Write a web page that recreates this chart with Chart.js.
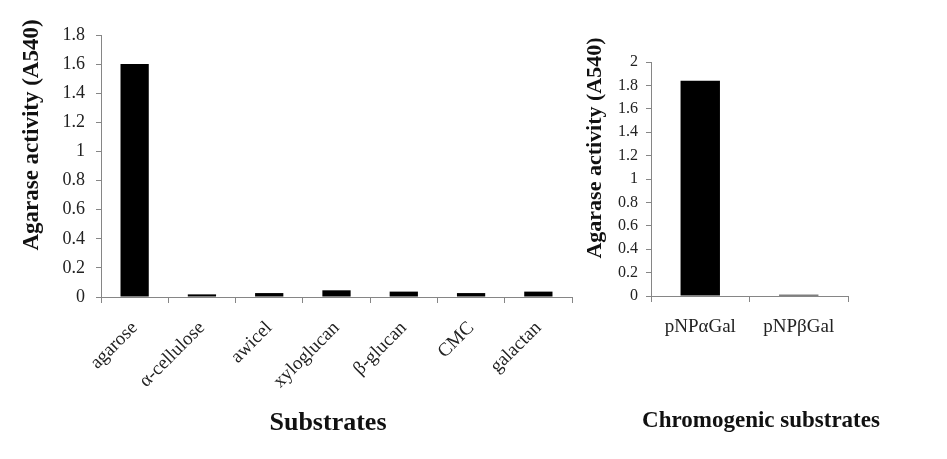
<!DOCTYPE html>
<html>
<head>
<meta charset="utf-8">
<script src="https://cdn.jsdelivr.net/npm/chart.js@4.4.1/dist/chart.umd.min.js"></script>
<style>
  body { margin: 0; background: #fff; }
  .box { position: absolute; top: 0; height: 459px; }
  #leftBox { left: 0; width: 580px; }
  #rightBox { left: 580px; width: 367px; }
</style>
</head>
<body>
<div class="box" id="leftBox"><canvas id="substrateChart"></canvas></div>
<div class="box" id="rightBox"><canvas id="chromoChart"></canvas></div>
<script>
// left panel: polysaccharide substrates
var substrate_labels = ['agarose', '\u03b1-cellulose', 'awicel', 'xyloglucan', '\u03b2-glucan', 'CMC', 'galactan'];
var substrate_values = [1.60, 0.018, 0.027, 0.046, 0.037, 0.027, 0.037];

// right panel: chromogenic substrates
var chromo_labels = ['pNP\u03b1Gal', 'pNP\u03b2Gal'];
var chromo_values = [1.84, 0.01];

var y_title = 'Agarase activity (A540)';
var serif = 'Liberation Serif';
var axis_grey = '#868686';

// axis titles are placed by hand, the excel original has them off-centre
var axisTitles = {
    id: 'axisTitles',
    afterDraw: function (chart, args, o) {
        var ctx = chart.ctx;
        ctx.save();
        ctx.fillStyle = '#111';
        ctx.textAlign = 'center';
        ctx.textBaseline = 'middle';

        ctx.font = 'bold ' + o.xSize + 'px "' + serif + '"';
        ctx.fillText(o.xText, o.xPos[0], o.xPos[1]);

        ctx.translate(o.yPos[0], o.yPos[1]);
        ctx.rotate(-Math.PI / 2);
        ctx.font = 'bold ' + o.ySize + 'px "' + serif + '"';
        ctx.fillText(y_title, 0, 0);
        ctx.restore();
    }
};

function fmt_tick(v) {
    return String(Math.round(v * 10) / 10);
}

function make_chart(id, opts) {
    return new Chart(document.getElementById(id), {
        type: 'bar',
        data: {
            labels: opts.labels,
            datasets: [{
                data: opts.values,
                backgroundColor: '#000',
                borderWidth: 0,
                categoryPercentage: 1,
                barPercentage: opts.barPct
            }]
        },
        plugins: [axisTitles],
        options: {
            responsive: true,
            maintainAspectRatio: false,
            animation: false,
            layout: { padding: opts.padding },
            plugins: {
                legend: { display: false },
                tooltip: { enabled: false },
                axisTitles: opts.titles
            },
            scales: {
                x: {
                    grid: { drawOnChartArea: false, color: axis_grey, tickLength: 6, offset: true },
                    border: { color: axis_grey },
                    ticks: {
                        color: '#222',
                        font: { family: serif, size: opts.xTickSize },
                        minRotation: opts.rotation,
                        maxRotation: opts.rotation,
                        padding: opts.xTickPad,
                        autoSkip: false
                    },
                    afterFit: function (scale) { scale.height = opts.xHeight; }
                },
                y: {
                    min: 0,
                    max: opts.yMax,
                    grid: { drawOnChartArea: false, color: axis_grey, tickLength: 5 },
                    border: { color: axis_grey },
                    ticks: {
                        stepSize: 0.2,
                        color: '#222',
                        font: { family: serif, size: opts.yTickSize },
                        padding: opts.yTickPad,
                        callback: fmt_tick
                    },
                    afterFit: function (scale) { scale.width = opts.yWidth; }
                }
            }
        }
    });
}

make_chart('substrateChart', {
    labels: substrate_labels,
    values: substrate_values,
    barPct: 0.42,
    padding: { top: 35, right: 8, bottom: 0, left: 0 },
    xTickSize: 19,
    rotation: 45,
    xTickPad: 14,
    xHeight: 162,
    yMax: 1.8,
    yTickSize: 18,
    yTickPad: 11,
    yWidth: 101,
    titles: { xText: 'Substrates', xSize: 26, xPos: [328, 423], ySize: 23, yPos: [32, 135] }
});

make_chart('chromoChart', {
    labels: chromo_labels,
    values: chromo_values,
    barPct: 0.4,
    padding: { top: 62, right: 99, bottom: 0, left: 0 },
    xTickSize: 19,
    rotation: 0,
    xTickPad: 14,
    xHeight: 163,
    yMax: 2,
    yTickSize: 16,
    yTickPad: 8,
    yWidth: 71,
    titles: { xText: 'Chromogenic substrates', xSize: 23, xPos: [181, 421], ySize: 22, yPos: [15, 148] }
});
</script>
</body>
</html>
